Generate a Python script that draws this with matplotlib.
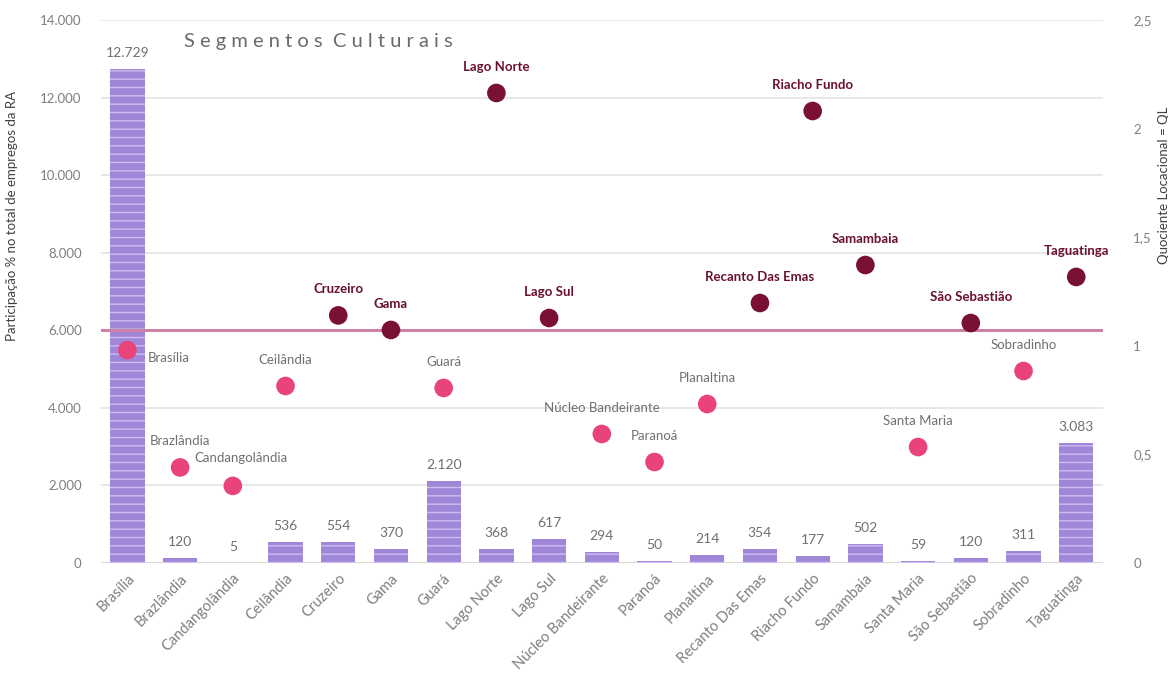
import matplotlib
matplotlib.use("Agg")
import matplotlib.pyplot as plt
import numpy as np

ras = ["Brasília", "Brazlândia", "Candangolândia", "Ceilândia", "Cruzeiro", "Gama",
       "Guará", "Lago Norte", "Lago Sul", "Núcleo Bandeirante", "Paranoá", "Planaltina",
       "Recanto Das Emas", "Riacho Fundo", "Samambaia", "Santa Maria", "São Sebastião",
       "Sobradinho", "Taguatinga"]
empregos = [12729, 120, 5, 536, 554, 370, 2120, 368, 617, 294, 50, 214, 354, 177, 502,
            59, 120, 311, 3083]
ql = [0.98, 0.44, 0.355, 0.815, 1.14, 1.073, 0.806, 2.164, 1.128, 0.594, 0.465, 0.732,
      1.197, 2.081, 1.372, 0.534, 1.105, 0.884, 1.317]
ql_ref = 1.071
left_ticks = [0, 2000, 4000, 6000, 8000, 10000, 12000, 14000]
right_ticks = [0, 0.5, 1, 1.5, 2, 2.5]

plt.rcParams['font.family'] = ['Lato', 'DejaVu Sans']

fig = plt.figure(figsize=(11.68, 6.78), dpi=100)
ax = fig.add_axes([0.0865, 0.1696, 0.8575, 0.8009])
ax2 = ax.twinx()

x = np.arange(len(ras))
ax.set_zorder(1)
ax2.set_zorder(2)
ax.patch.set_visible(True)
ax2.patch.set_visible(False)

bars = ax.bar(x, empregos, width=0.65, color='#9f86d6', hatch='--',
              edgecolor='#cdbdf0', linewidth=0, zorder=3)
for xi, v in zip(x, empregos):
    lab = f"{v:,}".replace(",", ".")
    ax.annotate(lab, (xi, v), xytext=(0, 10), textcoords='offset pixels',
                ha='center', va='bottom', fontsize=10, color='#707070', zorder=4)

ax.set_xlim(-0.5, len(ras) - 0.5)
ax.set_ylim(0, 14000)
ax.set_yticks(left_ticks)
ax.set_yticklabels([f"{t:,}".replace(",", ".") for t in left_ticks])
ax.yaxis.grid(True, color='#e3e3e3', linewidth=1.2, zorder=0)
ax.set_axisbelow(True)
for s in ax.spines.values():
    s.set_visible(False)
for s in ax2.spines.values():
    s.set_visible(False)
ax.axhline(0, color='#d9d9d9', linewidth=1.5, zorder=2)
ax.tick_params(axis='y', length=0, pad=14, labelsize=9.5, labelcolor='#7f7f7f')
ax.tick_params(axis='x', length=0, pad=6, labelsize=10.5, labelcolor='#7f7f7f')
ax.set_xticks(x)
ax.set_xticklabels(ras, rotation=45, ha='right', rotation_mode='anchor')

ax.set_ylabel("Participação % no total de empregos da RA", fontsize=9.5, color='#404040')
ax.yaxis.set_label_coords(-0.083, 0.64)

ax2.set_ylim(0, 2.5)
ax2.set_yticks(right_ticks)
ax2.set_yticklabels([("%g" % t).replace(".", ",") for t in right_ticks])
ax2.tick_params(axis='y', length=0, pad=22, labelsize=9.5, labelcolor='#7f7f7f')
ax2.set_ylabel("Quociente Locacional = QL", fontsize=9.5, color='#404040', rotation=90)
ax2.yaxis.set_label_coords(1.055, 0.696)

ax2.axhline(ql_ref, color='#cc82a4', linewidth=2.2, zorder=3)

dark = '#7b1037'
pink = '#e8437a'
offsets = {
    "Brasília": (20, -8, 'left'),
    "Brazlândia": (0, 26, 'center'),
    "Candangolândia": (8, 28, 'center'),
}
for xi, q, name in zip(x, ql, ras):
    above = q > ql_ref
    c = dark if above else pink
    ax2.scatter([xi], [q], s=180, color=c, zorder=5, edgecolors='none')
    dx, dy, ha = offsets.get(name, (0, 26, 'center'))
    ax2.annotate(name, (xi, q), xytext=(dx, dy), textcoords='offset pixels',
                 ha=ha, va='center', fontsize=9.5,
                 color='#6a1030' if above else '#707070',
                 fontweight='bold' if above else 'normal', zorder=6)

ax.text(0.083, 0.96, "S e g m e n t o s  C u l t u r a i s",
        transform=ax.transAxes, fontsize=14.5, color='#6a6a6a', ha='left', va='center')

fig.savefig("out.png", dpi=100)
